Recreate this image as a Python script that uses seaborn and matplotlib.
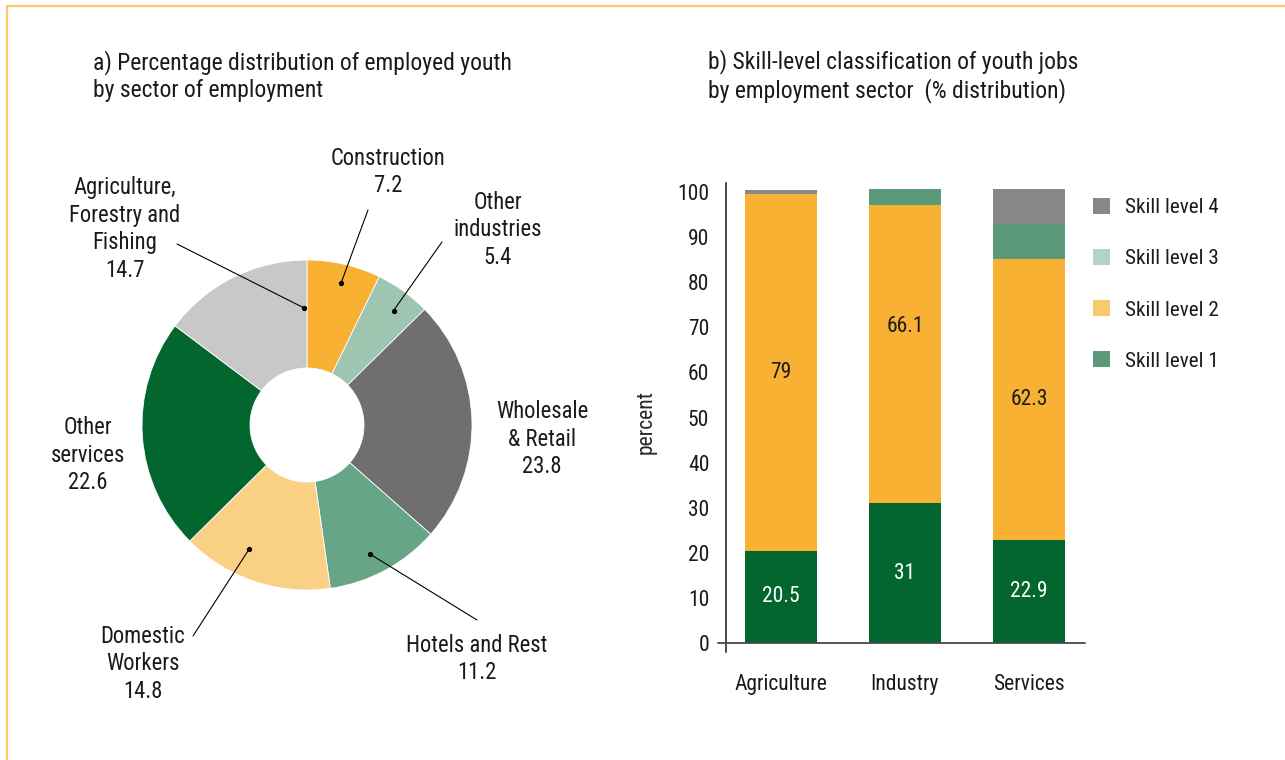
import numpy as np
import pandas as pd
import matplotlib
matplotlib.use("Agg")
import matplotlib.pyplot as plt
import seaborn as sns
from matplotlib import font_manager
from matplotlib.lines import Line2D
from matplotlib.patches import Patch

# ---- data -------------------------------------------------------------
sector_names = ["Construction", "Other\nindustries", "Wholesale\n& Retail",
                "Hotels and Rest", "Domestic\nWorkers", "Other\nservices",
                "Agriculture,\nForestry and\nFishing"]
sector_share = [7.2, 5.4, 23.8, 11.2, 14.8, 22.6, 14.7]

job_sectors = ["Agriculture", "Industry", "Services"]
skill_1 = [20.5, 31.0, 22.9]
skill_2 = [79.0, 66.1, 62.3]
skill_3 = [0.0, 3.5, 7.7]
skill_4 = [0.9, 0.0, 7.8]
skill_names = ["Skill level 4", "Skill level 3", "Skill level 2", "Skill level 1"]
y_ticks = list(range(0, 101, 10))

# ---- style ------------------------------------------------------------
sns.set_theme(style="white")
available = {f.name for f in font_manager.fontManager.ttflist}
plt.rcParams["font.family"] = [n for n in ["Roboto Condensed", "Roboto"] if n in available] + ["DejaVu Sans"]
plt.rcParams["text.color"] = "#1a1a1a"

pie_colors = ["#F8B133", "#9DC5B0", "#6F6F6F", "#66A586", "#FAD084", "#04662F", "#C8C8C8"]
bar_colors = {"Skill level 1": "#03662F", "Skill level 2": "#F8B133",
              "Skill level 3": "#5A9A7B", "Skill level 4": "#888888"}
legend_colors = {"Skill level 4": "#888888", "Skill level 3": "#B3D3C3",
                 "Skill level 2": "#FAC96E", "Skill level 1": "#5A9A7B"}
FS_TITLE = 17
FS_PIE = 16.3
FS_TICK = 15.5
FS_LEG = 15.2

W, H = 1285, 760
fig = plt.figure(figsize=(W / 100, H / 100), dpi=100)
fig.patch.set_facecolor("white")


def fx(px):
    return px / W


def fy(py):
    return 1 - py / H


# panel frame (top and left rule)
frame_kw = dict(transform=fig.transFigure, color="#FCC96C", lw=1.6)
fig.add_artist(Line2D([fx(7), 1], [fy(6), fy(6)], **frame_kw))
fig.add_artist(Line2D([fx(7), fx(7)], [fy(6), 0], **frame_kw))

# titles
fig.text(fx(93), fy(76), "a) Percentage distribution of employed youth\nby sector of employment",
         ha="left", va="center", fontsize=FS_TITLE, linespacing=1.25)
fig.text(fx(708), fy(76), "b) Skill-level classification of youth jobs\nby employment sector  (% distribution)",
         ha="left", va="center", fontsize=FS_TITLE, linespacing=1.25)

# ---- panel a: donut -----------------------------------------------------
ax1 = fig.add_axes([0, 0, 640 / W, 1])
cx, cy, R, r_hole = 307, H - 425, 165, 57
ax1.pie(sector_share, colors=pie_colors, startangle=90, counterclock=False,
        center=(cx, cy), radius=R,
        wedgeprops=dict(width=R - r_hole, edgecolor="white", linewidth=0.6))
ax1.set_xlim(0, 640)
ax1.set_ylim(0, H)
ax1.set_aspect("equal")
ax1.axis("off")

# label centres (pixel positions) and optional leader lines
label_pos = [(388, 172), (498, 230), (542, 439), (477, 659), (143, 664), (88, 455), (125, 229)]
leaders = {0: (76.5, 0.885, (368, 210)),
           1: (52.9, 0.87, (442, 242)),
           3: (-64.0, 0.87, (477, 620)),
           4: (-115.0, 0.83, (193, 636)),
           6: (91.5, 0.71, (177, 244))}

for i, (name, val) in enumerate(zip(sector_names, sector_share)):
    px, py = label_pos[i]
    ax1.text(px, H - py, f"{name}\n{val:g}", ha="center", va="center",
             multialignment="center", fontsize=FS_PIE, linespacing=1.27)
    if i in leaders:
        ang, rr, (ex, ey) = leaders[i]
        dx = cx + rr * R * np.cos(np.radians(ang))
        dy = cy + rr * R * np.sin(np.radians(ang))
        ax1.plot([dx, ex], [dy, H - ey], color="black", lw=0.8)
        ax1.plot(dx, dy, "o", color="black", ms=2.8)

# ---- panel b: stacked bars ----------------------------------------------
left_px, right_px, top_px, bot_px = 726, 1085, 183, 652
ax2 = fig.add_axes([fx(left_px), fy(bot_px), (right_px - left_px) / W, (bot_px - top_px) / H])

df = pd.DataFrame({"sector": job_sectors, "Skill level 1": skill_1, "Skill level 2": skill_2,
                   "Skill level 3": skill_3, "Skill level 4": skill_4})
df["c1"] = df["Skill level 1"]
df["c2"] = df["c1"] + df["Skill level 2"]
df["c3"] = df["c2"] + df["Skill level 3"]
df["c4"] = df["c3"] + df["Skill level 4"]

for col, name in [("c4", "Skill level 4"), ("c3", "Skill level 3"),
                  ("c2", "Skill level 2"), ("c1", "Skill level 1")]:
    sns.barplot(data=df, x="sector", y=col, color=bar_colors[name], saturation=1,
                width=0.58, linewidth=0, ax=ax2, errorbar=None)

label_nudge = {"Industry": 6.2}
for i, row in df.iterrows():
    ax2.text(i, row["c1"] / 2, f"{row['Skill level 1']:g}", ha="center", va="center",
             color="white", fontsize=FS_TICK)
    y2 = row["c1"] + row["Skill level 2"] / 2 + label_nudge.get(row["sector"], 0)
    ax2.text(i, y2, f"{row['Skill level 2']:g}", ha="center", va="center",
             color="#1a1a1a", fontsize=FS_TICK)

unit = 124.0
ax2.set_xlim((left_px - 781) / unit, (right_px - 781) / unit)
ax2.set_ylim(-2, 102)
ax2.set_yticks(y_ticks)
ax2.set_yticklabels([str(t) for t in y_ticks])
ax2.tick_params(axis="both", length=0, labelsize=FS_TICK, colors="#1a1a1a")
ax2.tick_params(axis="y", pad=12)
ax2.tick_params(axis="x", pad=16)
for s in ["top", "right", "bottom"]:
    ax2.spines[s].set_visible(False)
ax2.spines["left"].set_color("#1a1a1a")
ax2.spines["left"].set_linewidth(1.1)
ax2.plot([(718 - 781) / unit, (right_px - 781) / unit], [0, 0], color="#4a4a4a",
         lw=1.3, clip_on=False, zorder=5)
ax2.set_xlabel("")
ax2.set_ylabel("percent", fontsize=15.5)
ax2.yaxis.set_label_coords((657 - left_px) / (right_px - left_px), 0.49)

handles = [Patch(facecolor=legend_colors[n], edgecolor="none") for n in skill_names]
fig.legend(handles, skill_names, loc="upper left", bbox_to_anchor=(fx(1093), fy(198)),
           frameon=False, fontsize=FS_LEG, handlelength=0.8, handleheight=0.8,
           handletextpad=0.7, labelspacing=1.5, borderaxespad=0, borderpad=0)

fig.savefig("out.png", dpi=100, facecolor="white")
